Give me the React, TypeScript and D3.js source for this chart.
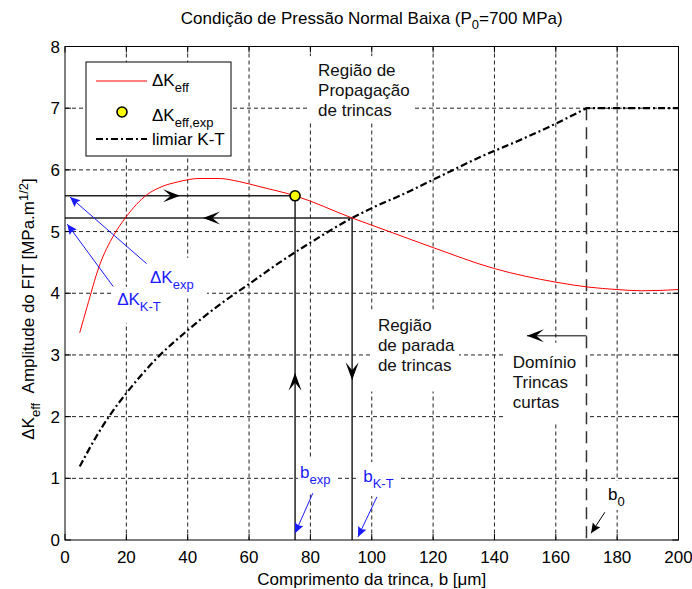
import React from 'react';
import * as d3 from 'd3';

const W = 692;
const H = 589;
const plot = { left: 65, right: 678.5, top: 46.5, bottom: 540 };

// eixos
const xTicks = [0, 20, 40, 60, 80, 100, 120, 140, 160, 180, 200];
const yTicks = [0, 1, 2, 3, 4, 5, 6, 7, 8];

// curva ΔKeff (vermelha)
const bEff = [4.8, 7.2, 11.1, 16.0, 19.8, 26.8, 30.7, 37.2, 43.7, 50.2, 56.8, 63.3, 75, 93.6, 105.7, 120, 140, 160, 170.6, 180, 188, 200];
const dKEff = [3.36, 3.78, 4.43, 4.95, 5.23, 5.6, 5.71, 5.81, 5.86, 5.86, 5.81, 5.73, 5.58, 5.22, 5.0, 4.74, 4.4, 4.18, 4.1, 4.06, 4.04, 4.06];

// limiar K-T (traço-ponto)
const bKT = [4.8, 10, 15, 20, 25, 30, 40, 50, 60, 70, 80, 93.6, 100, 110, 120, 135, 150, 160, 170];
const dKKT = [1.19, 1.66, 2.05, 2.38, 2.68, 2.95, 3.4, 3.8, 4.15, 4.5, 4.82, 5.22, 5.38, 5.6, 5.84, 6.2, 6.52, 6.75, 7.0];
const bEnd = 200;

// pontos notáveis
const bExp = 75;
const dKExp = 5.58;
const bInt = 93.6;
const dKInt = 5.22;
const b0 = 170;
const kMax = 7;

const FONT = '"Liberation Sans", Arial, Helvetica, sans-serif';
const BLUE = '#1a1aff';
const FS = 17;
const FSUB = 13;

const x = d3.scaleLinear().domain([0, 200]).range([plot.left, plot.right]);
const y = d3.scaleLinear().domain([0, 8]).range([plot.bottom, plot.top]);

function Head({ x1, y1, x2, y2, len, wid, notch, fill }: any) {
  const a = (Math.atan2(y2 - y1, x2 - x1) * 180) / Math.PI;
  const d = `M0,0L${-len},${-wid / 2}L${-len * notch},0L${-len},${wid / 2}Z`;
  return <path d={d} transform={`translate(${x2},${y2}) rotate(${a})`} fill={fill} />;
}

function Arrow({ from, to, color, len, wid, notch }: any) {
  const x1 = x(from[0]), y1 = y(from[1]), x2 = x(to[0]), y2 = y(to[1]);
  return (
    <g>
      <line x1={x1} y1={y1} x2={x2} y2={y2} stroke={color} strokeWidth={1} />
      <Head x1={x1} y1={y1} x2={x2} y2={y2} len={len} wid={wid} notch={notch} fill={color} />
    </g>
  );
}

function Sub({ main, sub, px, py, color }: any) {
  return (
    <text x={px} y={py} fill={color} fontSize={FS} fontFamily={FONT}>
      {main}
      <tspan dy={6} fontSize={FSUB}>{sub}</tspan>
    </text>
  );
}

export default function App() {
  const redLine = d3.line<number>().x((d, i) => x(bEff[i])).y((d) => y(d)).curve(d3.curveMonotoneX)(dKEff);
  const ktLine = d3.line<number>().x((d, i) => x(bKT[i])).y((d) => y(d)).curve(d3.curveMonotoneX)(dKKT) + `L${x(bEnd)},${y(kMax)}`;

  const blocks = [
    { lines: ['Região de', 'Propagação', 'de trincas'], bx: 82.5, by: 7.52, box: [-10, -20, 106, 66] },
    { lines: ['Região', 'de parada', 'de trincas'], bx: 102, by: 3.38, box: [-7, -22, 88, 82] },
    { lines: ['Domínio', 'Trincas', 'curtas'], bx: 146, by: 2.79, box: [-8, -25, 82, 79] },
  ];
  const blueLabels = [
    { main: 'ΔK', sub: 'exp', bx: 27.7, by: 4.17, box: [-5, -25, 62, 38] },
    { main: 'ΔK', sub: 'K-T', bx: 17.0, by: 3.81, box: [-4, -18, 59, 36] },
    { main: 'b', sub: 'exp', bx: 76.6, by: 1.0, box: [-2, -21, 38, 36] },
    { main: 'b', sub: 'K-T', bx: 97.2, by: 0.94, box: [-5, -20, 40, 34] },
  ];

  return (
    <svg width={W} height={H} style={{ display: 'block', position: 'absolute', left: 0, top: 0, background: '#fff' }}>
      <rect width={W} height={H} fill="#fff" />
      {/* grade pontilhada */}
      <g stroke="#222" strokeWidth={1} strokeDasharray="4,3">
        {xTicks.slice(1, -1).map((t) => (
          <line key={'gx' + t} x1={x(t)} x2={x(t)} y1={plot.top} y2={plot.bottom} />
        ))}
        {yTicks.slice(1, -1).map((t) => (
          <line key={'gy' + t} y1={y(t)} y2={y(t)} x1={plot.left} x2={plot.right} />
        ))}
      </g>
      {/* fundos brancos dos textos */}
      {blocks.map((b, i) => (
        <rect key={'bb' + i} x={x(b.bx) + b.box[0]} y={y(b.by) + b.box[1]} width={b.box[2]} height={b.box[3]} fill="#fff" />
      ))}
      {blueLabels.map((b, i) => (
        <rect key={'bl' + i} x={x(b.bx) + b.box[0]} y={y(b.by) + b.box[1]} width={b.box[2]} height={b.box[3]} fill="#fff" />
      ))}
      <rect x={x(177) - 6} y={y(0.65) - 19} width={28} height={29} fill="#fff" />

      {/* ticks */}
      <g stroke="#000" strokeWidth={1}>
        {xTicks.map((t) => (
          <g key={'tx' + t}>
            <line x1={x(t)} x2={x(t)} y1={plot.bottom} y2={plot.bottom - 6} />
            <line x1={x(t)} x2={x(t)} y1={plot.top} y2={plot.top + 6} />
          </g>
        ))}
        {yTicks.map((t) => (
          <g key={'ty' + t}>
            <line y1={y(t)} y2={y(t)} x1={plot.left} x2={plot.left + 6} />
            <line y1={y(t)} y2={y(t)} x1={plot.right} x2={plot.right - 6} />
          </g>
        ))}
      </g>

      {/* linhas guia */}
      <g stroke="#222" strokeWidth={1.5}>
        <line x1={x(0)} x2={x(bExp)} y1={y(dKExp)} y2={y(dKExp)} />
        <line x1={x(0)} x2={x(bInt)} y1={y(dKInt)} y2={y(dKInt)} />
        <line x1={x(bExp)} x2={x(bExp)} y1={y(dKExp)} y2={y(0)} />
        <line x1={x(bInt)} x2={x(bInt)} y1={y(dKInt)} y2={y(0)} />
      </g>
      <line x1={x(b0)} x2={x(b0)} y1={y(kMax)} y2={y(0)} stroke="#333" strokeWidth={1.5} strokeDasharray="12,7" />

      {/* setas pretas */}
      <Head x1={x(0)} y1={y(dKExp)} x2={x(37.5)} y2={y(dKExp)} len={17} wid={13} notch={0.55} fill="#000" />
      <Head x1={x(bInt)} y1={y(dKInt)} x2={x(45)} y2={y(dKInt)} len={17} wid={13} notch={0.55} fill="#000" />
      <Head x1={x(bExp)} y1={y(0)} x2={x(bExp)} y2={y(2.71)} len={18} wid={13} notch={0.55} fill="#000" />
      <Head x1={x(bInt)} y1={y(dKInt)} x2={x(bInt)} y2={y(2.59)} len={18} wid={13} notch={0.55} fill="#000" />
      <line x1={x(b0)} x2={x(150.6)} y1={y(3.31)} y2={y(3.31)} stroke="#000" strokeWidth={1} />
      <Head x1={x(b0)} y1={y(3.31)} x2={x(150.6)} y2={y(3.31)} len={17} wid={13} notch={0.55} fill="#000" />
      <Arrow from={[176, 0.45]} to={[171.5, 0.11]} color="#000" len={10} wid={9} notch={0.85} />

      {/* curvas */}
      <path d={ktLine} fill="none" stroke="#000" strokeWidth={2.2} strokeDasharray="7,3,2,3" />
      <path d={redLine || ''} fill="none" stroke="#ff0000" strokeWidth={1} />
      <circle cx={x(bExp)} cy={y(dKExp)} r={5} fill="#ffff00" stroke="#000" strokeWidth={1.6} />

      {/* setas azuis */}
      <Arrow from={[26.6, 4.48]} to={[1.63, 5.56]} color={BLUE} len={10} wid={9} notch={0.85} />
      <Arrow from={[15.7, 4.11]} to={[0.75, 5.12]} color={BLUE} len={10} wid={9} notch={0.85} />
      <Arrow from={[80.8, 0.76]} to={[75.0, 0.11]} color={BLUE} len={10} wid={9} notch={0.85} />
      <Arrow from={[101.7, 0.7]} to={[95.5, 0.05]} color={BLUE} len={10} wid={9} notch={0.85} />

      {/* textos */}
      {blocks.map((b, i) => (
        <text key={'t' + i} x={x(b.bx)} y={y(b.by)} fontSize={FS} fontFamily={FONT} fill="#111">
          {b.lines.map((l, j) => (
            <tspan key={j} x={x(b.bx)} dy={j === 0 ? 0 : 20}>{l}</tspan>
          ))}
        </text>
      ))}
      {blueLabels.map((b, i) => (
        <Sub key={'s' + i} main={b.main} sub={b.sub} px={x(b.bx)} py={y(b.by)} color={BLUE} />
      ))}
      <Sub main="b" sub="0" px={x(177)} py={y(0.65)} color="#000" />

      {/* legenda */}
      <g>
        <rect x={86} y={62} width={145} height={94} fill="#fff" stroke="#000" strokeWidth={1} />
        <line x1={96} x2={147} y1={81} y2={81} stroke="#ff0000" strokeWidth={1} />
        <Sub main="ΔK" sub="eff" px={152} py={86} color="#000" />
        <circle cx={122} cy={112} r={5} fill="#ffff00" stroke="#000" strokeWidth={1.6} />
        <Sub main="ΔK" sub="eff,exp" px={152} py={121} color="#000" />
        <line x1={96} x2={147} y1={139} y2={139} stroke="#000" strokeWidth={2.2} strokeDasharray="7,3,2,3" />
        <text x={152} y={145} fontSize={FS} fontFamily={FONT}>limiar K-T</text>
      </g>

      {/* moldura */}
      <rect x={plot.left} y={plot.top} width={plot.right - plot.left} height={plot.bottom - plot.top} fill="none" stroke="#000" strokeWidth={1} />

      {/* rótulos dos eixos */}
      <g fontSize={FS} fontFamily={FONT} fill="#000">
        {xTicks.map((t) => (
          <text key={'lx' + t} x={x(t)} y={563} textAnchor="middle">{t}</text>
        ))}
        {yTicks.map((t) => (
          <text key={'ly' + t} x={plot.left - 5} y={y(t)} dy="0.36em" textAnchor="end">{t}</text>
        ))}
        <text x={(plot.left + plot.right) / 2} y={585} textAnchor="middle">Comprimento da trinca, b [μm]</text>
        <text x={(plot.left + plot.right) / 2} y={24} textAnchor="middle">
          Condição de Pressão Normal Baixa (P<tspan dy={5} fontSize={FSUB}>0</tspan>
          <tspan dy={-5}>=700 MPa)</tspan>
        </text>
        <text transform={`translate(34,309) rotate(-90)`} textAnchor="middle">
          ΔK<tspan dy={6} fontSize={FSUB}>eff</tspan>
          <tspan dy={-6}>{'\u00a0\u00a0'}Amplitude do FIT [MPa.m</tspan>
          <tspan dy={-6} fontSize={FSUB}>1/2</tspan>
          <tspan dy={6}>]</tspan>
        </text>
      </g>
    </svg>
  );
}
